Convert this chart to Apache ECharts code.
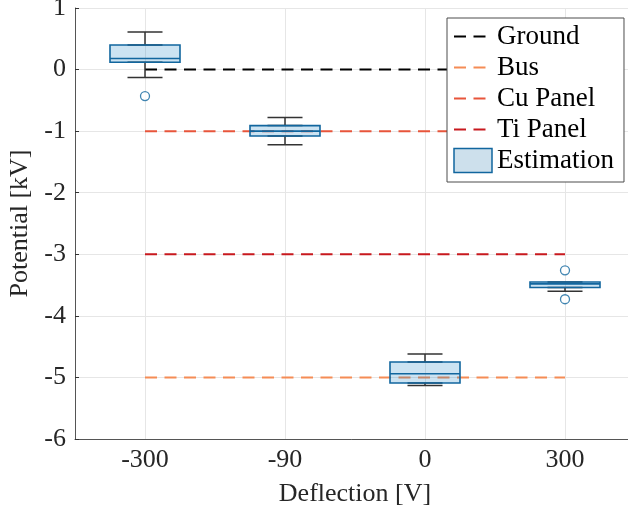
<!DOCTYPE html>
<html>
<head>
<meta charset="utf-8">
<script src="https://cdn.jsdelivr.net/npm/echarts@6/dist/echarts.min.js"></script>
<style>html,body{margin:0;padding:0;background:#fff;}#c{width:628px;height:514px;}</style>
</head>
<body>
<div id="c"></div>
<script>
// ---- data ----
const categories = ['-300', '-90', '0', '300'];
// box stats per category: [min, Q1, median, Q3, max]
const boxStats = [
  [-0.13, 0.12, 0.18, 0.40, 0.61],
  [-1.22, -1.08, -1.00, -0.91, -0.78],
  [-5.13, -5.09, -4.94, -4.75, -4.62],
  [-3.60, -3.54, -3.48, -3.45, -3.45]
];
const outliers = [['-300', -0.43], ['300', -3.26], ['300', -3.73]];
const groundLevel = [0, 0, 0, 0];
const busLevel = [-5, -5, -5, -5];
const cuPanelLevel = [-1, -1, -1, -1];
const tiPanelLevel = [-3, -3, -3, -3];
const yTicks = { min: -6, max: 1, step: 1 };

// ---- chart ----
const FONT = 'Liberation Serif';
const boxData = boxStats.map(s => [s[1], s[1], s[2], s[3], s[3]]);
const upperWhisker = boxStats.map(s => [s[3], s[3], s[3], s[3], s[4]]);
const lowerWhisker = boxStats.map(s => [s[0], s[1], s[1], s[1], s[1]]);
const dash = [12, 7.5];

function hiddenX() {
  return { type: 'category', data: categories, show: false, gridIndex: 0, axisLine: { onZero: false } };
}

const chart = echarts.init(document.getElementById('c'), null, { renderer: 'canvas' });
chart.setOption({
  animation: false,
  backgroundColor: '#fff',
  grid: { left: 75, top: 8, width: 560, height: 431, containLabel: false, outerBoundsMode: 'none' },
  xAxis: [
    {
      type: 'category', data: categories,
      name: 'Deflection [V]', nameLocation: 'middle', nameGap: 42,
      nameTextStyle: { fontFamily: FONT, fontSize: 26, color: '#262626' },
      axisLine: { onZero: false, lineStyle: { color: '#555', width: 1 } },
      axisTick: { inside: true, alignWithLabel: true, length: 4, lineStyle: { color: '#333' } },
      axisLabel: { fontFamily: FONT, fontSize: 26, color: '#262626', margin: 8 },
      splitLine: { show: true, alignWithLabel: true, lineStyle: { color: '#e6e6e6', width: 1 } }
    },
    hiddenX(), hiddenX(), hiddenX()
  ],
  yAxis: {
    type: 'value', min: yTicks.min, max: yTicks.max, interval: yTicks.step,
    name: 'Potential [kV]', nameLocation: 'middle', nameGap: 27, nameRotate: 90,
    nameTextStyle: { fontFamily: FONT, fontSize: 26, color: '#262626' },
    axisLine: { show: true, onZero: false, lineStyle: { color: '#555', width: 1 } },
    axisTick: { show: true, inside: true, length: 4, lineStyle: { color: '#333' } },
    axisLabel: { fontFamily: FONT, fontSize: 26, color: '#262626', margin: 9 },
    splitLine: { show: true, lineStyle: { color: '#e6e6e6', width: 1 } }
  },
  legend: {
    orient: 'vertical', left: 447, top: 18,
    padding: [5, 10, 8, 6], itemGap: 4, itemWidth: 38, itemHeight: 24,
    backgroundColor: '#fff', borderColor: '#4d4d4d', borderWidth: 1,
    textStyle: { fontFamily: FONT, fontSize: 27, color: '#000', lineHeight: 27 },
    itemStyle: { opacity: 0 },
    data: [
      { name: 'Ground' }, { name: 'Bus' }, { name: 'Cu Panel' }, { name: 'Ti Panel' },
      { name: 'Estimation', icon: 'rect',
        itemStyle: { opacity: 1, color: '#cde0ec', borderColor: '#11669e', borderWidth: 1.5 } }
    ]
  },
  series: [
    { name: 'Ground', type: 'line', data: groundLevel, symbol: 'none', z: 1,
      lineStyle: { color: '#000', width: 2, type: dash }, itemStyle: { color: '#000' } },
    { name: 'Bus', type: 'line', data: busLevel, symbol: 'none', z: 1,
      lineStyle: { color: '#f58c55', width: 2, type: dash }, itemStyle: { color: '#f58c55' } },
    { name: 'Cu Panel', type: 'line', data: cuPanelLevel, symbol: 'none', z: 1,
      lineStyle: { color: '#e8553b', width: 2, type: dash }, itemStyle: { color: '#e8553b' } },
    { name: 'Ti Panel', type: 'line', data: tiPanelLevel, symbol: 'none', z: 1,
      lineStyle: { color: '#c8191e', width: 2, type: dash }, itemStyle: { color: '#c8191e' } },
    { name: 'whiskerUp', type: 'boxplot', xAxisIndex: 1, data: upperWhisker, boxWidth: [35, 35], z: 2,
      itemStyle: { color: 'transparent', borderColor: '#333', borderWidth: 1.5 }, silent: true },
    { name: 'whiskerLow', type: 'boxplot', xAxisIndex: 2, data: lowerWhisker, boxWidth: [35, 35], z: 2,
      itemStyle: { color: 'transparent', borderColor: '#333', borderWidth: 1.5 }, silent: true },
    { name: 'Estimation', type: 'boxplot', xAxisIndex: 3, data: boxData, boxWidth: [70, 70], z: 3,
      itemStyle: { color: 'rgba(0,114,189,0.2)', borderColor: '#11669e', borderWidth: 1.6 } },
    { name: 'outliers', type: 'scatter', data: outliers, symbol: 'circle', symbolSize: 9, z: 4,
      itemStyle: { color: '#fff', borderColor: '#11669e', borderWidth: 1.3 } }
  ]
});
</script>
</body>
</html>
